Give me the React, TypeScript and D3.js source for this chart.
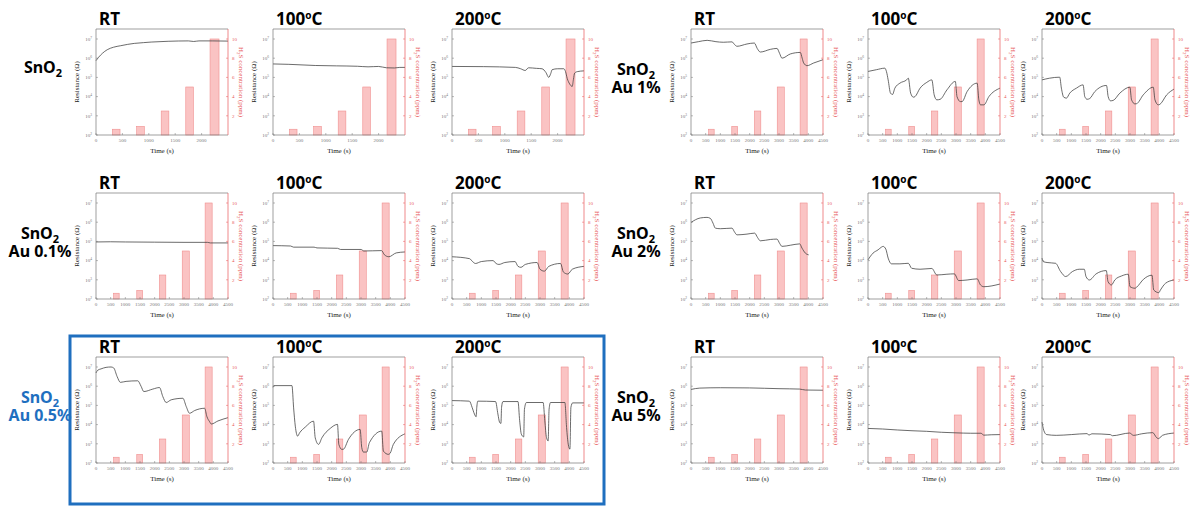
import React from "react";
import * as d3 from "d3";

type Pt = [number, number]; // [time (s), log10 resistance (Ω)]

// ---- tick labels ----
const xTicksShort = [0, 500, 1000, 1500, 2000];
const xTicksLong = [0, 500, 1000, 1500, 2000, 2500, 3000, 3500, 4000, 4500];
const resistanceTicks = [2, 3, 4, 5, 6, 7];
const concTicks = [2, 4, 6, 8, 10];

// ---- H2S pulses (ppm) ----
const concValues = [0.6, 0.9, 2.5, 5, 10];
const pulseStartShort = [310, 770, 1235, 1700, 2160];
const pulseEndShort = [455, 915, 1380, 1845, 2330];
const pulseStartLong = [600, 1390, 2160, 2940, 3720];
const pulseEndLong = [790, 1590, 2380, 3180, 3960];

// ---- resistance curves ----
const snO2_RT: Pt[] = [[0,5.87],[50,6.05],[120,6.25],[212,6.44],[330,6.57],[468,6.65],[600,6.72],[725,6.77],[900,6.81],[1045,6.84],[1366,6.88],[1750,6.9],[1850,6.87],[1950,6.9],[2200,6.9],[2500,6.89]];
const snO2_100: Pt[] = [[0,5.7],[300,5.68],[800,5.62],[1200,5.6],[1600,5.58],[1800,5.55],[2000,5.57],[2150,5.5],[2300,5.49],[2400,5.52],[2500,5.52]];
const snO2_200: Pt[] = [[0,5.57],[600,5.56],[1200,5.52],[1300,5.45],[1387,5.36],[1450,5.5],[1600,5.47],[1705,5.45],[1780,5.25],[1832,5.0],[1870,5.2],[1896,5.4],[2000,5.45],[2118,5.45],[2150,5.3],[2182,4.95],[2230,4.65],[2277,4.53],[2300,4.9],[2322,5.22],[2373,5.3],[2500,5.34]];

const au01_RT: Pt[] = [[0,4.97],[500,4.98],[1000,4.97],[2000,4.96],[3000,4.95],[3800,4.95],[3900,4.92],[4500,4.92]];
const au01_100: Pt[] = [[0,4.78],[600,4.76],[700,4.7],[1400,4.7],[1500,4.66],[2200,4.64],[2300,4.58],[3000,4.58],[3100,4.5],[3700,4.52],[3800,4.3],[3950,4.2],[4200,4.4],[4500,4.45]];
const au01_200: Pt[] = [[0,4.2],[600,4.1],[700,3.95],[800,3.85],[1000,3.95],[1400,4.0],[1500,3.85],[1600,3.8],[1800,3.9],[2150,3.95],[2250,3.7],[2350,3.65],[2500,3.8],[2900,3.9],[3000,3.55],[3150,3.45],[3300,3.7],[3700,3.85],[3800,3.4],[3950,3.3],[4100,3.55],[4500,3.7]];

const au05_RT: Pt[] = [[0,6.69],[57,6.83],[171,6.9],[342,6.98],[513,7.0],[604,6.95],[718,6.51],[832,6.2],[1025,6.25],[1424,6.28],[1538,5.99],[1629,5.72],[1937,5.85],[2165,5.93],[2278,5.46],[2392,5.15],[2563,5.29],[2962,5.37],[3076,4.94],[3190,4.59],[3361,4.73],[3703,4.85],[3782,4.41],[3873,4.15],[3930,4.03],[4158,4.19],[4500,4.36]];
const au05_100: Pt[] = [[0,5.94],[30,6.03],[646,6.03],[703,4.87],[760,3.92],[839,3.4],[907,3.57],[1100,3.87],[1383,4.18],[1440,3.31],[1553,2.97],[1666,3.31],[1950,3.8],[2199,4.01],[2244,2.97],[2346,2.71],[2403,2.72],[2573,3.23],[2970,3.75],[3026,2.8],[3083,2.57],[3196,2.57],[3287,3.06],[3707,3.66],[3763,2.62],[3933,2.45],[3990,2.5],[4103,2.97],[4500,3.52]];
const au05_200: Pt[] = [[0,5.25],[594,5.22],[685,4.9],[765,4.55],[822,4.41],[845,4.9],[879,5.22],[1485,5.2],[1565,4.55],[1622,4.12],[1668,4.06],[1690,4.9],[1736,5.2],[2250,5.2],[2307,4.2],[2364,3.5],[2444,3.36],[2470,4.8],[2535,5.15],[3107,5.15],[3164,4.2],[3221,3.33],[3278,3.15],[3310,4.8],[3358,5.15],[3849,5.15],[3906,3.85],[3963,2.98],[4020,2.72],[4054,4.9],[4112,5.13],[4500,5.13]];

const au1_RT: Pt[] = [[0,6.79],[250,6.86],[550,6.93],[850,6.86],[1100,6.83],[1398,6.85],[1480,6.72],[1568,6.62],[1909,6.74],[2159,6.79],[2260,6.5],[2364,6.32],[2705,6.46],[2932,6.51],[3020,6.25],[3102,6.0],[3386,6.22],[3727,6.3],[3790,6.0],[3841,5.75],[3955,5.61],[4182,5.75],[4500,5.92]];
const au1_100: Pt[] = [[0,5.31],[286,5.4],[572,5.48],[630,5.3],[687,4.87],[767,4.18],[836,4.11],[916,4.44],[1088,4.7],[1316,4.87],[1374,4.96],[1454,4.18],[1546,3.97],[1603,4.0],[1775,4.44],[2004,4.74],[2176,4.87],[2256,4.09],[2347,3.83],[2462,3.86],[2691,4.35],[2977,4.79],[3034,4.0],[3149,3.74],[3206,3.74],[3378,4.26],[3721,4.7],[3779,3.83],[3836,3.57],[3950,3.57],[4122,4.0],[4500,4.44]];
const au1_200: Pt[] = [[0,4.87],[262,4.96],[604,5.01],[661,4.44],[740,3.97],[832,3.92],[946,4.18],[1173,4.44],[1401,4.61],[1458,4.0],[1538,3.86],[1629,3.9],[1800,4.26],[2199,4.58],[2256,4.0],[2335,3.78],[2425,3.8],[2654,4.18],[2996,4.49],[3053,3.83],[3167,3.62],[3224,3.63],[3452,4.09],[3794,4.49],[3851,3.83],[3965,3.57],[4022,3.6],[4250,4.09],[4500,4.39]];

const au2_RT: Pt[] = [[0,5.99],[318,6.22],[545,6.25],[659,6.2],[750,5.95],[830,5.69],[1000,5.66],[1398,5.69],[1480,5.5],[1568,5.34],[1909,5.38],[2170,5.43],[2270,5.2],[2364,5.03],[2705,5.1],[2932,5.12],[3020,4.9],[3102,4.74],[3386,4.8],[3705,4.87],[3784,4.65],[3898,4.39],[4011,4.3]];
const au2_100: Pt[] = [[0,4.04],[172,4.39],[343,4.56],[458,4.7],[515,4.74],[607,4.6],[687,4.13],[801,3.83],[1088,3.83],[1374,3.86],[1489,3.6],[1775,3.55],[2176,3.59],[2347,3.25],[2691,3.29],[2943,3.31],[3092,2.96],[3378,2.99],[3721,3.05],[3836,2.73],[3950,2.64],[4500,2.78]];
const au2_200: Pt[] = [[0,4.13],[40,3.95],[173,3.9],[462,3.86],[635,3.43],[808,3.17],[1038,3.43],[1269,3.55],[1442,3.55],[1500,3.17],[1615,2.99],[1846,3.31],[2192,3.48],[2250,2.91],[2365,2.73],[2481,2.99],[2712,3.2],[2942,3.29],[3000,2.64],[3173,2.56],[3230,2.62],[3462,3.03],[3750,3.24],[3808,2.47],[3981,2.33],[4038,2.47],[4212,2.82],[4500,2.99]];

const au5_RT: Pt[] = [[0,5.83],[300,5.9],[1000,5.92],[2000,5.91],[3000,5.87],[3700,5.85],[3900,5.8],[4500,5.79]];
const au5_100: Pt[] = [[0,3.8],[500,3.77],[1000,3.72],[1500,3.68],[2000,3.65],[2500,3.6],[3000,3.57],[3500,3.55],[3850,3.55],[3950,3.45],[4200,3.47],[4500,3.48]];
const au5_200: Pt[] = [[0,4.13],[60,3.7],[158,3.48],[487,3.44],[1000,3.48],[1540,3.53],[1600,3.45],[1700,3.52],[2329,3.48],[2400,3.42],[2987,3.56],[3118,3.44],[3400,3.52],[3776,3.58],[3908,3.32],[3974,3.27],[4105,3.44],[4500,3.56]];

// ---- layout ----
const PW = 132;
const PH = 106;
const leftCols = [96, 273, 452];
const rightCols = [691, 868, 1042];
const rowTops = [29, 193, 357];
const BLUE = "#1f6fbf";
const RED = "#e8585a";
const SERIF = "'Liberation Serif', 'DejaVu Serif', serif";
const SANS = "'Noto Sans', 'Liberation Sans', sans-serif";

const Title = ({ x, y, kind }: { x: number; y: number; kind: string }) => (
  <text x={x} y={y} fontFamily={SANS} fontWeight={700} fontSize={17} fill="#000">
    {kind === "RT" ? (
      "RT"
    ) : (
      <>
        <tspan>{kind}</tspan>
        <tspan dy={-6} fontSize={10}>o</tspan>
        <tspan dy={6}>C</tspan>
      </>
    )}
  </text>
);

function Panel({ x0, y0, data, long, title }: { x0: number; y0: number; data: Pt[]; long: boolean; title: string }) {
  const xMax = long ? 4500 : 2500;
  const xTicks = long ? xTicksLong : xTicksShort;
  const starts = long ? pulseStartLong : pulseStartShort;
  const ends = long ? pulseEndLong : pulseEndShort;
  const x = d3.scaleLinear().domain([0, xMax]).range([0, PW]);
  const yR = d3.scaleLog().domain([1e2, Math.pow(10, 7.52)]).range([PH, 0]);
  const yC = d3.scaleLinear().domain([0, 11.04]).range([PH, 0]);
  const line = d3
    .line<Pt>()
    .x((d) => x(d[0]))
    .y((d) => yR(Math.pow(10, d[1])))
    .curve(d3.curveMonotoneX);
  return (
    <g>
      <Title x={x0 + 3} y={y0 - 4} kind={title} />
      <g transform={`translate(${x0},${y0})`}>
        {concValues.map((c, i) => (
          <rect
            key={i}
            x={x(starts[i])}
            y={yC(c)}
            width={x(ends[i]) - x(starts[i])}
            height={PH - yC(c)}
            fill="#f9b9b9"
            fillOpacity={0.85}
            stroke="#f08f8f"
            strokeWidth={0.6}
          />
        ))}
        <path d={line(data) || ""} fill="none" stroke="#3a3a3a" strokeWidth={0.75} />
        <line x1={0} y1={0} x2={PW} y2={0} stroke="#777" strokeWidth={0.7} />
        <line x1={0} y1={0} x2={0} y2={PH} stroke="#777" strokeWidth={0.7} />
        <line x1={0} y1={PH} x2={PW} y2={PH} stroke="#777" strokeWidth={0.7} />
        <line x1={PW} y1={0} x2={PW} y2={PH} stroke={RED} strokeWidth={0.7} />
        {resistanceTicks.map((e) => (
          <g key={e}>
            <line x1={0} x2={2} y1={yR(Math.pow(10, e))} y2={yR(Math.pow(10, e))} stroke="#777" strokeWidth={0.5} />
            <text x={-4} y={yR(Math.pow(10, e)) + 1.8} textAnchor="end" fontFamily={SERIF} fontSize={5} fill="#777">
              10<tspan dy={-2} fontSize={3.5}>{e}</tspan>
            </text>
          </g>
        ))}
        {concTicks.map((c) => (
          <g key={c}>
            <line x1={PW} x2={PW - 2} y1={yC(c)} y2={yC(c)} stroke={RED} strokeWidth={0.5} />
            <text x={PW + 4} y={yC(c) + 1.8} fontFamily={SERIF} fontSize={5} fill={RED}>
              {c}
            </text>
          </g>
        ))}
        {xTicks.map((t) => (
          <g key={t}>
            <line x1={x(t)} x2={x(t)} y1={PH} y2={PH - 2} stroke="#777" strokeWidth={0.5} />
            <text x={x(t)} y={PH + 7} textAnchor="middle" fontFamily={SERIF} fontSize={5} fill="#777">
              {t}
            </text>
          </g>
        ))}
        <text x={PW / 2} y={PH + 18} textAnchor="middle" fontFamily={SERIF} fontSize={7} fill="#222">
          Time (s)
        </text>
        <text
          transform={`translate(-17,${PH / 2}) rotate(-90)`}
          textAnchor="middle"
          fontFamily={SERIF}
          fontSize={7}
          fill="#222"
        >
          Resistance (Ω)
        </text>
        <text
          transform={`translate(${PW + 11},${PH / 2}) rotate(90)`}
          textAnchor="middle"
          fontFamily={SERIF}
          fontSize={7}
          fill={RED}
        >
          H<tspan dy={2} fontSize={5}>2</tspan>
          <tspan dy={-2}>S concentration (ppm)</tspan>
        </text>
      </g>
    </g>
  );
}

const RowLabel = ({ cx, y, au, color }: { cx: number; y: number; au: string | null; color: string }) => (
  <g fontFamily={SANS} fontWeight={700} fontSize={16} fill={color} textAnchor="middle">
    <text x={cx} y={y}>
      SnO<tspan dy={4} fontSize={11}>2</tspan>
    </text>
    {au && (
      <text x={cx} y={y + 18}>
        {au}
      </text>
    )}
  </g>
);

const leftRows: Pt[][][] = [
  [snO2_RT, snO2_100, snO2_200],
  [au01_RT, au01_100, au01_200],
  [au05_RT, au05_100, au05_200],
];
const rightRows: Pt[][][] = [
  [au1_RT, au1_100, au1_200],
  [au2_RT, au2_100, au2_200],
  [au5_RT, au5_100, au5_200],
];
const temps = ["RT", "100", "200"];

export default function App() {
  return (
    <svg width={1198} height={507} style={{ position: "absolute", left: 0, top: 0, background: "#fff" }}>
      <rect x={0} y={0} width={1198} height={507} fill="#fff" />
      {leftRows.map((row, r) =>
        row.map((d, c) => (
          <Panel key={`l${r}${c}`} x0={leftCols[c]} y0={rowTops[r]} data={d} long={r !== 0} title={temps[c]} />
        ))
      )}
      {rightRows.map((row, r) =>
        row.map((d, c) => (
          <Panel key={`r${r}${c}`} x0={rightCols[c]} y0={rowTops[r]} data={d} long={true} title={temps[c]} />
        ))
      )}
      <RowLabel cx={43} y={73} au={null} color="#000" />
      <RowLabel cx={40} y={239} au="Au 0.1%" color="#000" />
      <RowLabel cx={40} y={403} au="Au 0.5%" color={BLUE} />
      <RowLabel cx={636} y={75} au="Au 1%" color="#000" />
      <RowLabel cx={636} y={239} au="Au 2%" color="#000" />
      <RowLabel cx={636} y={403} au="Au 5%" color="#000" />
      <rect x={70} y={336} width={534} height={168} fill="none" stroke={BLUE} strokeWidth={3} />
    </svg>
  );
}
